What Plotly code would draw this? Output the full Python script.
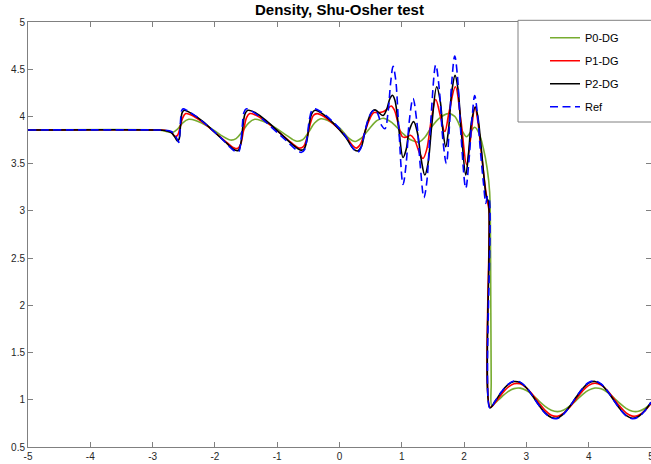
import plotly.graph_objects as go

# ---------------- data ----------------
x_ticks = [-5, -4, -3, -2, -1, 0, 1, 2, 3, 4, 5]
x_tick_labels = ["-5", "-4", "-3", "-2", "-1", "0", "1", "2", "3", "4", "5"]
y_ticks = [0.5, 1, 1.5, 2, 2.5, 3, 3.5, 4, 4.5, 5]
y_tick_labels = ["0.5", "1", "1.5", "2", "2.5", "3", "3.5", "4", "4.5", "5"]

# post-shock region (shared x positions)
x_post = [2.5, 2.6, 2.7, 2.8, 2.9, 3.0, 3.1, 3.2, 3.3, 3.4, 3.5, 3.6, 3.7,
          3.8, 3.9, 4.0, 4.1, 4.2, 4.3, 4.4, 4.5, 4.6, 4.7, 4.8, 4.9, 5.0]

# Ref (blue dashed)
x_ref = [-5, -2.95, -2.8, -2.7, -2.64, -2.6, -2.58, -2.565, -2.55, -2.535, -2.51, -2.45,
         -2.3, -2.1, -1.9, -1.75, -1.66, -1.615, -1.585, -1.56, -1.535, -1.5, -1.42,
         -1.25, -1.05, -0.85, -0.7, -0.61, -0.56, -0.52, -0.48, -0.44, -0.39, -0.3,
         -0.1, 0.1, 0.22, 0.29, 0.34, 0.40, 0.46, 0.52, 0.57, 0.62, 0.68, 0.73, 0.78,
         0.82, 0.86, 0.90, 0.95, 1.02, 1.07, 1.12, 1.18, 1.24, 1.30, 1.355, 1.40, 1.46,
         1.545, 1.60, 1.66, 1.715, 1.76, 1.80, 1.85, 1.89, 1.95, 2.027, 2.08, 2.13,
         2.17, 2.21, 2.26, 2.31, 2.35, 2.375, 2.395, 2.415]
y_ref = [3.857, 3.857, 3.855, 3.84, 3.80, 3.75, 3.725, 3.80, 3.97, 4.06, 4.08, 4.065,
         4.0, 3.89, 3.77, 3.67, 3.625, 3.63, 3.72, 3.90, 4.04, 4.08, 4.06,
         3.98, 3.86, 3.74, 3.65, 3.62, 3.65, 3.78, 3.98, 4.065, 4.08, 4.05,
         3.94, 3.79, 3.66, 3.62, 3.66, 3.82, 3.97, 4.05, 4.07, 4.02, 3.90, 3.87, 4.05,
         4.35, 4.53, 4.40, 3.90, 3.28, 3.50, 3.95, 4.19, 3.95, 3.45, 3.14, 3.30, 3.90,
         4.545, 4.30, 3.75, 3.50, 3.85, 4.35, 4.64, 4.45, 3.80, 3.24, 3.55, 4.0,
         4.22, 4.05, 3.65, 3.30, 3.08, 3.15, 3.15, 0.91]
y_ref_post = [0.987, 1.084, 1.161, 1.198, 1.187, 1.130, 1.041, 0.942, 0.858, 0.808,
              0.803, 0.850, 0.932, 1.030, 1.120, 1.183, 1.199, 1.167, 1.094, 0.998,
              0.903, 0.831, 0.800, 0.819, 0.882, 0.974]

# P2-DG (black)
x_p2 = [-5, -2.95, -2.8, -2.7, -2.64, -2.6, -2.575, -2.55, -2.525, -2.49, -2.4, -2.2,
        -2.0, -1.8, -1.68, -1.625, -1.585, -1.55, -1.515, -1.47, -1.35, -1.15, -0.95,
        -0.75, -0.63, -0.575, -0.525, -0.485, -0.445, -0.395, -0.3, -0.1, 0.1, 0.22,
        0.29, 0.35, 0.41, 0.47, 0.52, 0.57, 0.63, 0.70, 0.76, 0.81, 0.85, 0.89, 0.95,
        1.02, 1.07, 1.12, 1.19, 1.25, 1.31, 1.37, 1.42, 1.48, 1.56, 1.62, 1.66, 1.705,
        1.75, 1.80, 1.855, 1.90, 1.96, 2.027, 2.07, 2.12, 2.18, 2.22, 2.27, 2.32, 2.36,
        2.39, 2.415]
y_p2 = [3.857, 3.857, 3.852, 3.83, 3.78, 3.74, 3.76, 3.92, 4.04, 4.065, 4.04, 3.95,
        3.83, 3.71, 3.645, 3.64, 3.71, 3.90, 4.03, 4.065, 4.04, 3.94, 3.82,
        3.70, 3.645, 3.65, 3.74, 3.92, 4.03, 4.065, 4.04, 3.93, 3.78, 3.66,
        3.635, 3.68, 3.84, 3.98, 4.05, 4.07, 4.04, 4.01, 4.08, 4.19, 4.225, 4.17, 3.88,
        3.565, 3.65, 3.85, 3.945, 3.83, 3.55, 3.38, 3.50, 3.90, 4.315, 4.15, 3.85, 3.68,
        3.86, 4.25, 4.435, 4.30, 3.80, 3.38, 3.60, 3.95, 4.10, 4.0, 3.70, 3.35, 3.14,
        3.10, 0.915]
y_p2_post = [0.987, 1.082, 1.157, 1.193, 1.182, 1.127, 1.040, 0.944, 0.861, 0.813,
             0.808, 0.854, 0.934, 1.029, 1.117, 1.178, 1.194, 1.163, 1.091, 0.998,
             0.905, 0.835, 0.805, 0.823, 0.885, 0.974]

# P1-DG (red)
x_p1 = [-5, -2.95, -2.8, -2.7, -2.645, -2.6, -2.56, -2.52, -2.47, -2.4, -2.2, -2.0,
        -1.8, -1.7, -1.64, -1.59, -1.54, -1.49, -1.44, -1.35, -1.15, -0.95, -0.75,
        -0.65, -0.58, -0.52, -0.47, -0.42, -0.36, -0.25, -0.1, 0.1, 0.2, 0.27, 0.33,
        0.40, 0.47, 0.55, 0.62, 0.70, 0.77, 0.83, 0.88, 0.95, 1.01, 1.07, 1.14, 1.20,
        1.28, 1.34, 1.40, 1.47, 1.545, 1.62, 1.69, 1.76, 1.86, 1.95, 2.04, 2.10, 2.175,
        2.22, 2.28, 2.34, 2.38, 2.40, 2.42]
y_p1 = [3.857, 3.857, 3.853, 3.835, 3.79, 3.80, 3.88, 3.98, 4.03, 4.02, 3.94, 3.83,
        3.72, 3.67, 3.66, 3.70, 3.85, 3.99, 4.03, 4.015, 3.93, 3.82, 3.71,
        3.665, 3.68, 3.78, 3.92, 4.01, 4.03, 4.0, 3.92, 3.79, 3.70, 3.665, 3.70,
        3.82, 3.95, 4.04, 4.04, 4.05, 4.08, 4.11, 4.07, 3.90, 3.785, 3.78, 3.80, 3.76,
        3.62, 3.555, 3.65, 3.95, 4.18, 4.0, 3.84, 4.05, 4.315, 3.95, 3.49, 3.75, 4.10,
        3.95, 3.6, 3.25, 3.08, 3.0, 0.92]
y_p1_post = [0.971, 1.057, 1.130, 1.170, 1.169, 1.127, 1.053, 0.967, 0.888, 0.837,
             0.826, 0.858, 0.924, 1.009, 1.092, 1.152, 1.175, 1.155, 1.097, 1.016,
             0.930, 0.862, 0.827, 0.835, 0.883, 0.960]

# P0-DG (green)
x_p0 = [-5, -2.95, -2.85, -2.75, -2.68, -2.6, -2.52, -2.42, -2.3, -2.1, -1.9, -1.75,
        -1.66, -1.56, -1.46, -1.36, -1.25, -1.05, -0.85, -0.7, -0.6, -0.5, -0.4, -0.3,
        -0.18, 0.0, 0.15, 0.25, 0.35, 0.48, 0.6, 0.71, 0.85, 1.0, 1.15, 1.28, 1.37,
        1.47, 1.6, 1.75, 1.85, 1.96, 2.04, 2.1, 2.17, 2.24, 2.31, 2.37, 2.41, 2.425,
        2.435, 2.445]
y_p0 = [3.857, 3.857, 3.852, 3.835, 3.83, 3.865, 3.93, 3.97, 3.955, 3.89, 3.80, 3.75,
        3.765, 3.84, 3.93, 3.97, 3.955, 3.89, 3.80, 3.74, 3.75, 3.83, 3.93, 3.975,
        3.955, 3.88, 3.77, 3.735, 3.77, 3.87, 3.955, 3.98, 3.93, 3.83, 3.75, 3.73, 3.78,
        3.88, 3.98, 4.03, 4.0, 3.86, 3.785, 3.83, 3.885, 3.82, 3.66, 3.45, 3.2, 2.5,
        1.2, 0.935]
y_p0_post = [0.967, 1.029, 1.084, 1.118, 1.123, 1.098, 1.050, 0.989, 0.930, 0.889,
             0.875, 0.892, 0.935, 0.994, 1.055, 1.102, 1.124, 1.116, 1.080, 1.024,
             0.962, 0.909, 0.879, 0.878, 0.908, 0.959]

series_names = ["P0-DG", "P1-DG", "P2-DG", "Ref"]
series_colors = ["#77AC30", "#FF0000", "#000000", "#0000FF"]

# ---------------- figure ----------------
for xs, ys in [(x_ref, y_ref), (x_p2, y_p2), (x_p1, y_p1), (x_p0, y_p0)]:
    assert len(xs) == len(ys), (len(xs), len(ys))

data = [
    (x_p0 + x_post, y_p0 + y_p0_post),
    (x_p1 + x_post, y_p1 + y_p1_post),
    (x_p2 + x_post, y_p2 + y_p2_post),
    (x_ref + x_post, y_ref + y_ref_post),
]

fig = go.Figure()
for i, ((xs, ys), name, col) in enumerate(zip(data, series_names, series_colors)):
    fig.add_trace(go.Scatter(
        x=xs, y=ys, mode="lines", name=name, legendgroup=name,
        line=dict(color=col, width=1.6, shape="spline", smoothing=1,
                  dash="8px,4.5px" if name == "Ref" else "solid"),
    ))

axis_common = dict(
    showline=True, linecolor="#808080", linewidth=1, mirror="ticks",
    ticks="inside", ticklen=5, tickcolor="#808080", tickwidth=1,
    showgrid=False, zeroline=False,
    tickfont=dict(family="Liberation Sans", size=10, color="#262626"),
)

fig.update_layout(
    width=651, height=464,
    margin=dict(l=28, r=0, t=22, b=17, autoexpand=False),
    paper_bgcolor="white", plot_bgcolor="white",
    title=dict(text="Density, Shu-Osher test", x=0.5, xref="paper",
               y=1 - 10 / 464, yref="container", yanchor="middle", xanchor="center",
               font=dict(family="Liberation Sans", size=15, color="#000000", weight="bold")),
    xaxis=dict(range=[-5, 5], tickmode="array", tickvals=x_ticks, ticktext=x_tick_labels,
               ticklabeloverflow="allow", **axis_common),
    yaxis=dict(range=[0.5, 5], tickmode="array", tickvals=y_ticks, ticktext=y_tick_labels,
               **axis_common),
    showlegend=True,
    legend=dict(x=(545 - 28) / 623, xanchor="left", y=0.997, yanchor="top",
                bgcolor="rgba(0,0,0,0)", borderwidth=0, tracegroupgap=4,
                traceorder="grouped",
                font=dict(family="Liberation Sans", size=11, color="#000000")),
    shapes=[dict(type="rect", xref="paper", yref="paper",
                 x0=(518 - 28) / 623, x1=1.02, y0=(447 - 122) / 425, y1=1.004,
                 line=dict(color="#808080", width=1), fillcolor="white", layer="above")],
)

fig.write_html("out.html", config={"displayModeBar": False},
               post_script="document.body.style.margin='0';")
